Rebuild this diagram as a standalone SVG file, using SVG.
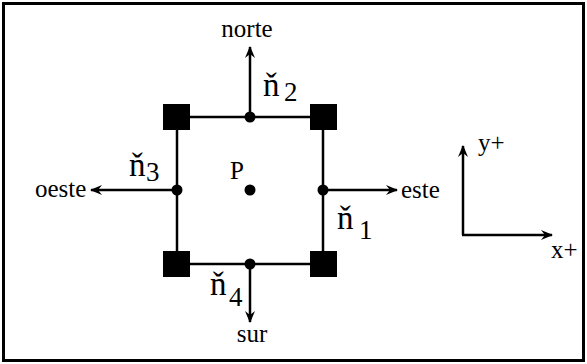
<svg xmlns="http://www.w3.org/2000/svg" width="587" height="364" viewBox="0 0 587 364">
<style>
text { font-family: "Liberation Serif", "Times New Roman", serif; fill: #000; }
.lbl { font-size: 25px; }
.nv { font-size: 33px; }
.sub { font-size: 27px; }
.edge { stroke: #000; stroke-width: 2.5; fill: none; }
.arr { stroke: #000; stroke-width: 2.5; fill: none; marker-end: url(#ah); }
.corner { fill: #000; }
.dot { fill: #000; }
</style>
<defs>
<marker id="ah" viewBox="-12 -6 14 12" refX="0" refY="0" markerWidth="14" markerHeight="12" markerUnits="userSpaceOnUse" orient="auto">
<path d="M1,0 L-11,-5 L-7,0 L-11,5 Z" fill="#000"/>
</marker>
</defs>
<rect x="3.5" y="3.5" width="580" height="357" fill="#fff" stroke="#000" stroke-width="3"/>
<g id="connectors">
<line class="edge" x1="177" y1="117" x2="323" y2="117"/>
<line class="edge" x1="177" y1="264" x2="323" y2="264"/>
<line class="edge" x1="177" y1="117" x2="177" y2="264"/>
<line class="edge" x1="323" y1="117" x2="323" y2="264"/>
<line class="arr" x1="250" y1="117" x2="250" y2="47"/>
<line class="arr" x1="250" y1="264" x2="250" y2="322"/>
<line class="arr" x1="177" y1="190" x2="91" y2="190"/>
<line class="arr" x1="323" y1="190" x2="397" y2="190"/>
<line class="arr" x1="463" y1="235" x2="463" y2="146"/>
<line class="arr" x1="462" y1="235" x2="552" y2="235"/>
</g>
<g id="corner-tl"><rect class="corner" x="163" y="104" width="27" height="26"/></g>
<g id="corner-tr"><rect class="corner" x="310" y="104" width="27" height="26"/></g>
<g id="corner-bl"><rect class="corner" x="163" y="251" width="27" height="26"/></g>
<g id="corner-br"><rect class="corner" x="310" y="251" width="27" height="26"/></g>
<g id="point-top"><circle class="dot" cx="250" cy="117" r="5.5"/></g>
<g id="point-bottom"><circle class="dot" cx="250" cy="264" r="5.5"/></g>
<g id="point-left"><circle class="dot" cx="177" cy="190" r="5.5"/></g>
<g id="point-right"><circle class="dot" cx="323" cy="190" r="5.5"/></g>
<g id="point-p"><circle class="dot" cx="250" cy="190" r="5.5"/><text class="lbl" x="230" y="179">P</text></g>
<g id="norte"><text class="lbl" x="247" y="37" text-anchor="middle">norte</text></g>
<g id="sur"><text class="lbl" x="252" y="342" text-anchor="middle">sur</text></g>
<g id="oeste"><text class="lbl" x="35" y="197">oeste</text></g>
<g id="este"><text class="lbl" x="401" y="198">este</text></g>
<g id="n2"><text class="nv" x="263" y="96">ň</text><text class="sub" x="284" y="101">2</text></g>
<g id="n3"><text class="nv" x="129" y="176">ň</text><text class="sub" x="146" y="181">3</text></g>
<g id="n1"><text class="nv" x="337" y="229">ň</text><text class="sub" x="359" y="239">1</text></g>
<g id="n4"><text class="nv" x="210" y="295">ň</text><text class="sub" x="229" y="306">4</text></g>
<g id="axes"><text class="lbl" x="478" y="151">y+</text><text class="lbl" x="551" y="258">x+</text></g>
</svg>
